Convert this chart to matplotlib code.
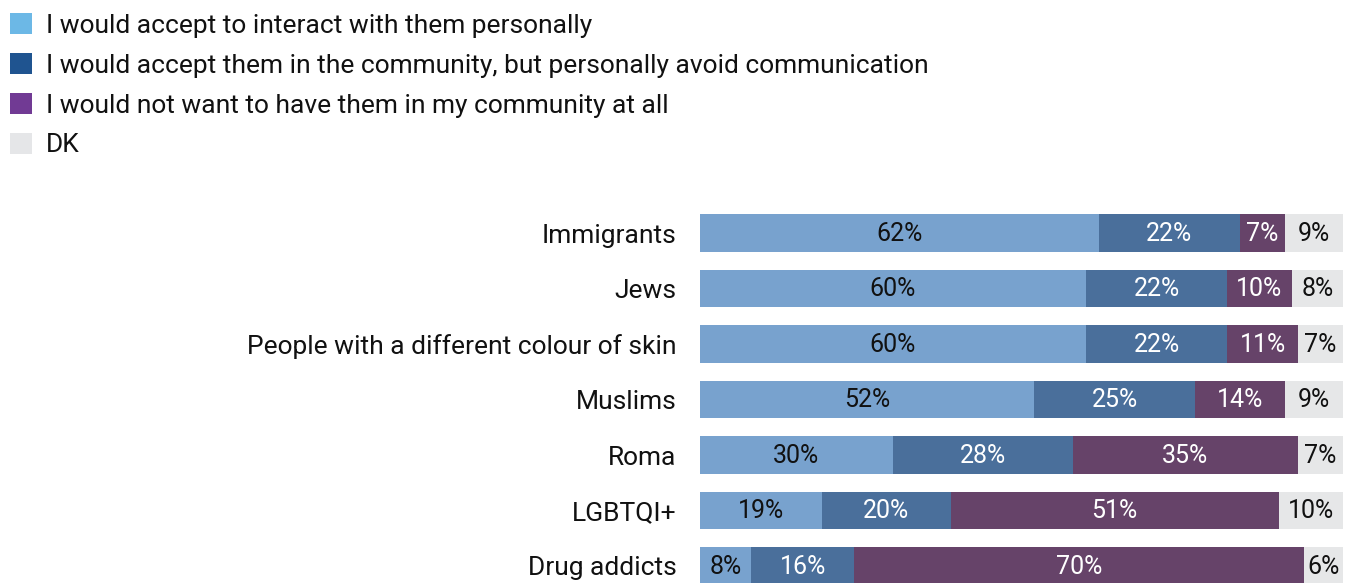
import matplotlib.pyplot as plt
from matplotlib.patches import Patch
import numpy as np

groups = ["Immigrants", "Jews", "People with a different colour of skin", "Muslims",
          "Roma", "LGBTQI+", "Drug addicts"]
accept_personal = [62, 60, 60, 52, 30, 19, 8]
accept_avoid = [22, 22, 22, 25, 28, 20, 16]
not_want = [7, 10, 11, 14, 35, 51, 70]
dk = [9, 8, 7, 9, 7, 10, 6]

series_names = ["I would accept to interact with them personally",
                "I would accept them in the community, but personally avoid communication",
                "I would not want to have them in my community at all",
                "DK"]
bar_colors = ["#78a2ce", "#4a6f9b", "#664369", "#e6e7e8"]
legend_colors = ["#6cb8e6", "#1f5490", "#713a94", "#e5e6e8"]
text_colors = ["#111111", "white", "white", "#111111"]

plt.rcParams['font.family'] = ['Roboto', 'DejaVu Sans']

W, H = 1348, 583
fig = plt.figure(figsize=(W / 100, H / 100), dpi=100)

# axes placed in pixel terms
x0, x1 = 700, 1343
top_px = 200
ax = fig.add_axes([x0 / W, 0, (x1 - x0) / W, (H - top_px) / H])

y = np.arange(len(groups))
step = 55.5
ax.set_ylim(6 + 17 / step, 0 - 33 / step)

data = [accept_personal, accept_avoid, not_want, dk]
left = np.zeros(len(groups))
for vals, col, tc in zip(data, bar_colors, text_colors):
    vals = np.array(vals, dtype=float)
    ax.barh(y, vals, left=left, height=0.67, color=col, linewidth=0)
    for yi, l, v in zip(y, left, vals):
        ax.text(l + v / 2, yi + 0.01, f"{int(v)}%", ha="center", va="center", color=tc,
                fontsize=18)
    left += vals

ax.set_xlim(0, 100)
ax.set_yticks(y)
ax.set_yticklabels(groups, fontsize=19, color="#111111")
ax.tick_params(axis="y", length=0, pad=17)
ax.set_xticks([])
for s in ax.spines.values():
    s.set_visible(False)

handles = [Patch(facecolor=c, edgecolor="none") for c in legend_colors]
fig.legend(handles, series_names, loc="upper left", bbox_to_anchor=(-8 / W, 1 + 5 / H),
           frameon=False, fontsize=19, handlelength=0.83, handleheight=0.83,
           handletextpad=0.53, labelspacing=0.58, borderaxespad=0.3,
           labelcolor="#111111")

fig.savefig("out.png", dpi=100)
